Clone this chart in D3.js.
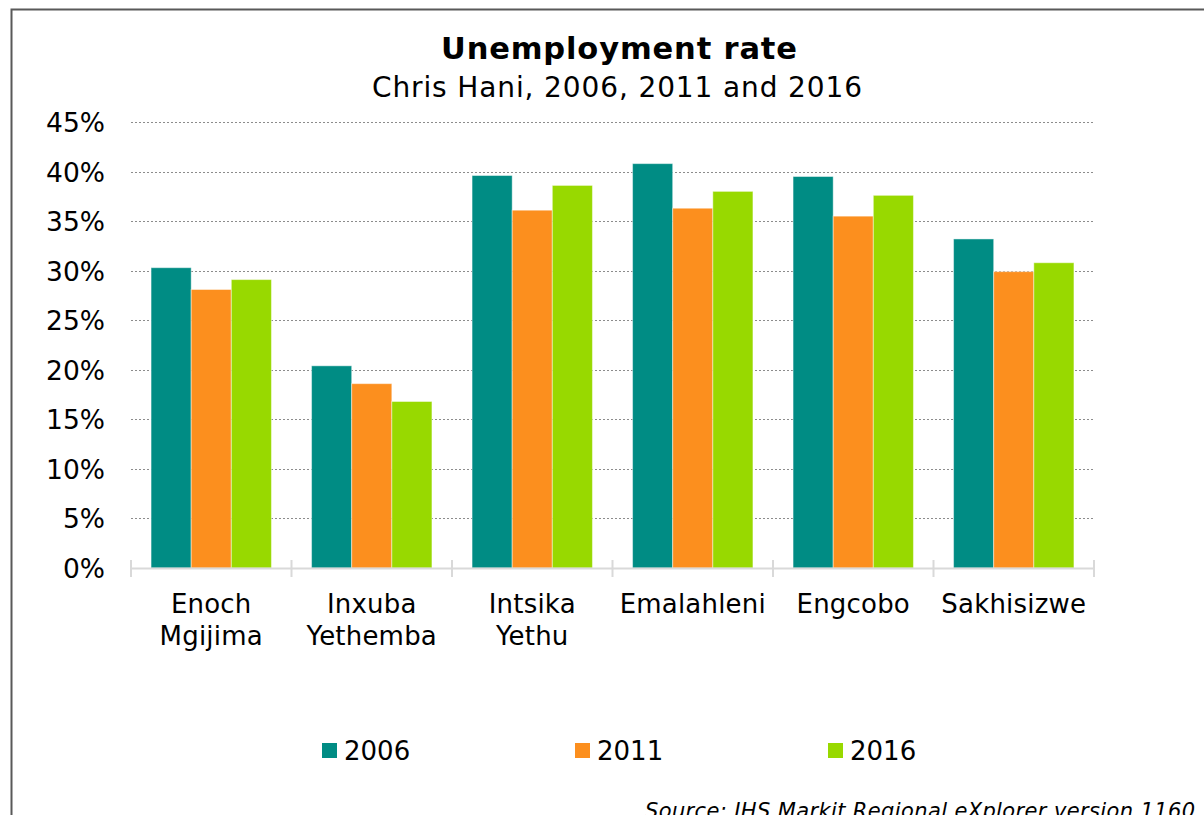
<!DOCTYPE html>
<html>
<head>
<meta charset="utf-8">
<script src="https://cdn.jsdelivr.net/npm/d3@7"></script>
<style>
  html, body { margin: 0; padding: 0; background: #fff; }
  svg { display: block; font-family: "DejaVu Sans", Verdana, sans-serif; }
</style>
</head>
<body>
<svg id="chart" width="1204" height="815"></svg>
<script>
// Unemployment rate by local municipality, Chris Hani district
const categories = ["Enoch Mgijima", "Inxuba Yethemba", "Intsika Yethu", "Emalahleni", "Engcobo", "Sakhisizwe"];
const years = ["2006", "2011", "2016"];
const values2006 = [0.303, 0.204, 0.396, 0.408, 0.395, 0.332];
const values2011 = [0.281, 0.186, 0.361, 0.363, 0.355, 0.299];
const values2016 = [0.291, 0.168, 0.386, 0.380, 0.376, 0.308];
const yTicks = [0, 0.05, 0.10, 0.15, 0.20, 0.25, 0.30, 0.35, 0.40, 0.45];
const colors = ["#008c84", "#fc8f1e", "#98d900"];

const seriesValues = [values2006, values2011, values2016];
const rows = categories.map((c, i) => ({
  category: c,
  values: years.map((y, k) => ({ year: y, value: seriesValues[k][i] }))
}));

const svg = d3.select("#chart");

// Frame
svg.append("path")
  .attr("d", "M11.5,815 L11.5,9.5 L1204,9.5")
  .attr("fill", "none")
  .attr("stroke", "#595959")
  .attr("stroke-width", 2);

const plot = { left: 131, right: 1094, top: 122, bottom: 568 };

const x0 = d3.scaleBand().domain(categories).range([plot.left, plot.right]).paddingInner(0).paddingOuter(0);
const x1 = d3.scaleBand().domain(years).range([0, x0.bandwidth()]).paddingOuter(0.5).paddingInner(0);
const y = d3.scaleLinear().domain([0, 0.45]).range([plot.bottom, plot.top]);
const color = d3.scaleOrdinal().domain(years).range(colors);

// Title
svg.append("text")
  .attr("x", 619).attr("y", 59)
  .attr("text-anchor", "middle")
  .attr("font-size", 30.5).attr("font-weight", "bold")
  .attr("textLength", 356).attr("lengthAdjust", "spacing")
  .attr("fill", "#000")
  .text("Unemployment rate");
svg.append("text")
  .attr("x", 617).attr("y", 97)
  .attr("text-anchor", "middle")
  .attr("font-size", 28)
  .attr("textLength", 490).attr("lengthAdjust", "spacing")
  .attr("fill", "#000")
  .text("Chris Hani, 2006, 2011 and 2016");

// Gridlines
svg.append("g")
  .selectAll("line")
  .data(yTicks.filter(t => t > 0))
  .join("line")
  .attr("x1", plot.left).attr("x2", plot.right)
  .attr("y1", d => Math.round(y(d)) + 0.5).attr("y2", d => Math.round(y(d)) + 0.5)
  .attr("stroke", "#8c8c8c")
  .attr("stroke-width", 1)
  .attr("stroke-dasharray", "2,2");

// Y axis labels
const yAxis = d3.axisLeft(y).tickValues(yTicks).tickFormat(d3.format(".0%")).tickSize(0).tickPadding(0);
const yg = svg.append("g").attr("transform", `translate(${plot.left - 26},0)`).call(yAxis);
yg.select(".domain").remove();
yg.selectAll("text")
  .attr("font-size", 26.5)
  .attr("font-family", "DejaVu Sans, Verdana, sans-serif")
  .attr("fill", "#000")
  .attr("dy", "0.36em");

// Bars
const groups = svg.append("g")
  .selectAll("g")
  .data(rows)
  .join("g")
  .attr("transform", d => `translate(${x0(d.category)},0)`);
groups.selectAll("rect")
  .data(d => d.values)
  .join("rect")
  .attr("x", d => x1(d.year))
  .attr("width", x1.bandwidth())
  .attr("y", d => y(d.value))
  .attr("height", d => y(0) - y(d.value))
  .attr("fill", d => color(d.year))
  .attr("stroke", "rgba(255,255,255,0.45)")
  .attr("stroke-width", 1);

// X axis
const xAxis = d3.axisBottom(x0).tickSize(0).tickPadding(0);
const xg = svg.append("g").attr("transform", `translate(0,${plot.bottom})`).call(xAxis);
xg.select(".domain").attr("stroke", "#d9d9d9").attr("stroke-width", 2);
xg.selectAll(".tick text").remove();
const boundaries = categories.map(c => x0(c)).concat([plot.right]);
xg.selectAll("line.sep")
  .data(boundaries)
  .join("line")
  .attr("class", "sep")
  .attr("x1", d => d).attr("x2", d => d)
  .attr("y1", -8).attr("y2", 9)
  .attr("stroke", "#d9d9d9")
  .attr("stroke-width", 2);

// Category labels (wrapped on spaces)
const catLabels = svg.append("g");
categories.forEach(c => {
  const t = catLabels.append("text")
    .attr("x", x0(c) + x0.bandwidth() / 2)
    .attr("y", 613)
    .attr("text-anchor", "middle")
    .attr("font-size", 26)
    .attr("letter-spacing", 0.2)
    .attr("fill", "#000");
  c.split(" ").forEach((w, i) => {
    t.append("tspan").attr("x", x0(c) + x0.bandwidth() / 2).attr("dy", i === 0 ? 0 : 32).text(w);
  });
});

// Legend
const legendX = d3.scalePoint().domain(years).range([322, 828]);
const legend = svg.append("g")
  .selectAll("g")
  .data(years)
  .join("g")
  .attr("transform", d => `translate(${legendX(d)},743)`);
legend.append("rect")
  .attr("width", 15).attr("height", 15)
  .attr("fill", d => color(d));
legend.append("text")
  .attr("x", 22).attr("y", 17)
  .attr("font-size", 26)
  .attr("fill", "#000")
  .text(d => d);

// Source
svg.append("text")
  .attr("x", 645).attr("y", 818)
  .attr("font-size", 21)
  .attr("font-style", "italic")
  .attr("textLength", 550).attr("lengthAdjust", "spacing")
  .attr("fill", "#000")
  .text("Source: IHS Markit Regional eXplorer version 1160");
</script>
</body>
</html>
